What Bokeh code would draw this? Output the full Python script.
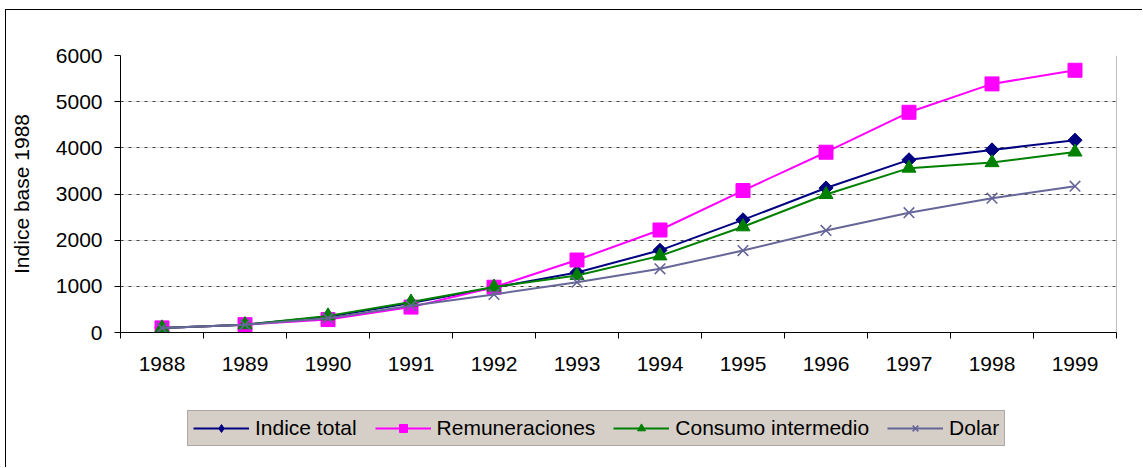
import math
from bokeh.plotting import figure
from bokeh.layouts import column
from bokeh.models import (FixedTicker, Legend, LegendItem, Span, Grid, ColumnDataSource)
from bokeh.embed import file_html
from bokeh.resources import INLINE

years = ["1988", "1989", "1990", "1991", "1992", "1993", "1994", "1995", "1996", "1997", "1998", "1999"]
indice_total = [100, 170, 340, 640, 975, 1300, 1780, 2440, 3130, 3740, 3955, 4165]
remuneraciones = [100, 170, 280, 550, 980, 1570, 2220, 3075, 3905, 4770, 5385, 5680]
consumo_intermedio = [100, 170, 360, 660, 985, 1235, 1660, 2290, 2990, 3560, 3680, 3910]
dolar = [100, 170, 310, 580, 825, 1090, 1380, 1775, 2210, 2595, 2910, 3170]
y_ticks = [0, 1000, 2000, 3000, 4000, 5000, 6000]
series_names = ["Indice total", "Remuneraciones", "Consumo intermedio", "Dolar"]

FONT = "Liberation Sans"
C_TOTAL, C_REM, C_CONS, C_DOL = "#000080", "#FF00FF", "#008000", "#666699"
x = [i + 0.5 for i in range(len(years))]

p = figure(width=1137, height=380, output_backend="svg", toolbar_location=None,
           x_range=(0, len(years)), y_range=(0, 6000),
           min_border_left=114, min_border_right=27, min_border_top=45, min_border_bottom=58)
p.margin = (9, 0, 0, 5)
p.styles = {"border-left": "1px solid #000000", "border-top": "1px solid #000000"}
p.outline_line_color = None
p.background_fill_color = "white"
p.border_fill_color = "white"

# x axis: labels at centers, ticks at boundaries
p.xaxis.ticker = FixedTicker(ticks=x, minor_ticks=list(range(len(years) + 1)))
p.xaxis.major_label_overrides = {xi: y for xi, y in zip(x, years)}
p.xaxis.major_tick_out = 0
p.xaxis.major_tick_in = 0
p.xaxis.minor_tick_out = 6
p.xaxis.minor_tick_in = 0
p.xaxis.minor_tick_line_color = "black"
p.xaxis.axis_line_color = "black"
p.xaxis.major_label_text_font = FONT
p.xaxis.major_label_text_font_size = "21px"
p.xaxis.major_label_text_color = "black"
p.xaxis.major_label_standoff = 18

p.yaxis.ticker = FixedTicker(ticks=y_ticks)
p.yaxis.minor_tick_line_color = None
p.yaxis.major_tick_out = 6
p.yaxis.major_tick_in = 0
p.yaxis.major_tick_line_color = "black"
p.yaxis.axis_line_color = "black"
p.yaxis.major_label_text_font = FONT
p.yaxis.major_label_text_font_size = "21px"
p.yaxis.major_label_text_color = "black"
p.yaxis.major_label_standoff = 12
p.yaxis.axis_label = "Indice base 1988"
p.yaxis.axis_label_text_font = FONT
p.yaxis.axis_label_text_font_size = "21px"
p.yaxis.axis_label_text_font_style = "normal"
p.yaxis.axis_label_text_color = "black"
p.yaxis.axis_label_standoff = 20

p.xgrid.grid_line_color = None
p.ygrid.ticker = FixedTicker(ticks=y_ticks[1:])
p.ygrid.grid_line_color = "#444444"
p.ygrid.grid_line_dash = "3 5"
p.ygrid.grid_line_width = 1
g2 = Grid(dimension=1, ticker=FixedTicker(ticks=y_ticks[1:]), grid_line_color="#e4e0dc", grid_line_width=1)
p.center.insert(0, g2)

p.add_layout(Span(location=len(years), dimension="height", line_color="#808080", line_width=1))

src = ColumnDataSource(dict(x=x, t=indice_total, r=remuneraciones, c=consumo_intermedio, d=dolar))


def draw(fig, source, for_legend=False):
    out = []
    if for_legend:
        dm = fig.scatter("x", "t", source=source, marker="diamond", size=18,
                         fill_color=C_TOTAL, line_color=C_TOTAL)
    else:
        dm = fig.scatter("x", "t", source=source, marker="square", angle=math.pi / 4, size=10,
                         fill_color=C_TOTAL, line_color=C_TOTAL)
    out.append((fig.line("x", "t", source=source, line_color=C_TOTAL, line_width=2), dm))
    out.append((fig.line("x", "r", source=source, line_color=C_REM, line_width=2),
                fig.scatter("x", "r", source=source, marker="square", size=14,
                            fill_color=C_REM, line_color=C_REM)))
    out.append((fig.line("x", "c", source=source, line_color=C_CONS, line_width=2),
                fig.scatter("x", "c", source=source, marker="triangle", size=14,
                            fill_color=C_CONS, line_color=C_CONS)))
    out.append((fig.line("x", "d", source=source, line_color=C_DOL, line_width=2),
                fig.scatter("x", "d", source=source, marker="x", size=15,
                            line_color=C_DOL, line_width=1.6)))
    return out


draw(p, src)

# legend strip below the chart (its own renderers fall outside its tiny ranges)
q = figure(width=1137, height=78, output_backend="svg", toolbar_location=None,
           x_range=(0, 1), y_range=(-2, -1), x_axis_type=None, y_axis_type=None,
           min_border_left=0, min_border_right=0, min_border_top=0, min_border_bottom=0)
q.margin = (0, 0, 0, 5)
q.styles = {"border-left": "1px solid #000000"}
q.outline_line_color = None
q.grid.visible = False
q.background_fill_color = "white"
q.border_fill_color = "white"
rends = draw(q, src, for_legend=True)

legend = Legend(items=[LegendItem(label=n, renderers=list(rr)) for n, rr in zip(series_names, rends)],
                orientation="horizontal", location=(67, 21))
legend.background_fill_color = "#d6cfc8"
legend.background_fill_alpha = 1.0
legend.border_line_color = "#808080"
legend.border_line_width = 1
legend.label_text_font = FONT
legend.label_text_font_size = "21px"
legend.label_text_color = "black"
legend.glyph_width = 56
legend.glyph_height = 20
legend.label_standoff = 6
legend.spacing = 18
legend.padding = 5
legend.margin = 0
legend.label_height = 20
q.add_layout(legend, "center")

layout = column(p, q, spacing=0)
open("out.html", "w").write(file_html(layout, INLINE))
